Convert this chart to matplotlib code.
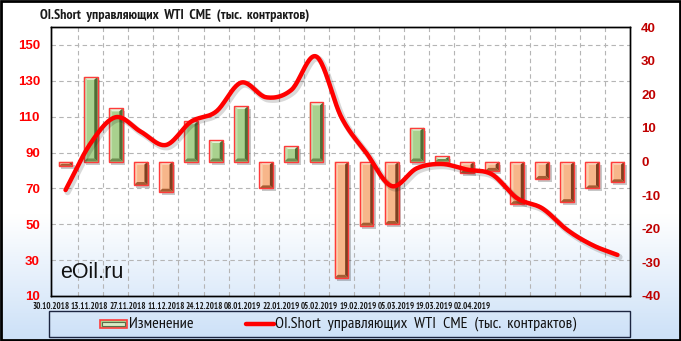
import numpy as np
import matplotlib
matplotlib.use("Agg")
import matplotlib.pyplot as plt
from matplotlib.patches import Polygon, Rectangle
from matplotlib.lines import Line2D


TITLE = "OI.Short  управляющих  WTI  CME  (тыс.  контрактов)"
BAR_LABEL = "Изменение"
LINE_LABEL = "OI.Short  управляющих  WTI  CME  (тыс.  контрактов)"

DATE_LABELS = [
    "30.10.2018", "13.11.2018", "27.11.2018", "11.12.2018", "24.12.2018", "08.01.2019",
    "22.01.2019", "05.02.2019", "19.02.2019", "05.03.2019", "19.03.2019", "02.04.2019",
]
# weekly values, 23 reports
OI_SHORT = [69.1, 95.2, 109.7, 101.6, 94.2, 107.2, 112.8, 129.0, 120.8, 124.9, 143.5, 109.5,
            89.6, 71.3, 81.2, 83.6, 80.5, 77.8, 64.5, 58.9, 46.8, 38.4, 32.9]
CHANGE = [-1.3, 25.2, 15.8, -7.0, -9.0, 12.0, 6.4, 16.5, -8.0, 4.6, 17.6, -34.6,
          -19.1, -18.6, 10.1, 1.5, -3.5, -2.8, -12.7, -5.2, -12.1, -8.0, -6.2]

LEFT_TICKS = [10, 30, 50, 70, 90, 110, 130, 150]
RIGHT_TICKS = [-40, -30, -20, -10, 0, 10, 20, 30, 40]

W, H = 681, 341
NARROW = ["PT Sans Narrow", "Roboto Condensed", "DejaVu Sans"]
SANS = ["Liberation Sans", "DejaVu Sans"]

GREEN = dict(body="#a9d18e", top="#e4f2d8", left="#c3dfae", right="#4f6d36", bottom="#6d8e50")
ORANGE = dict(body="#f7b68a", top="#fde4d0", left="#fbcfae", right="#7d4020", bottom="#a45d33")


def fx(px):
    return px / W


def fy(py):
    return 1 - py / H


def smooth(xs, ys, n=24):
    xs = np.asarray(xs, float)
    ys = np.asarray(ys, float)
    px = np.concatenate([[2 * xs[0] - xs[1]], xs, [2 * xs[-1] - xs[-2]]])
    py = np.concatenate([[2 * ys[0] - ys[1]], ys, [2 * ys[-1] - ys[-2]]])
    out_x, out_y = [], []
    t = np.linspace(0, 1, n, endpoint=False)
    for i in range(1, len(px) - 2):
        for arr, out in ((px, out_x), (py, out_y)):
            p0, p1, p2, p3 = arr[i - 1], arr[i], arr[i + 1], arr[i + 2]
            out.extend(0.5 * (2 * p1 + (-p0 + p2) * t + (2 * p0 - 5 * p1 + 4 * p2 - p3) * t ** 2
                              + (-p0 + 3 * p1 - 3 * p2 + p3) * t ** 3))
    out_x.append(xs[-1])
    out_y.append(ys[-1])
    return np.array(out_x), np.array(out_y)


def bevel_bar(ax, xc, value, width, colors):
    x0, x1 = xc - width / 2, xc + width / 2
    yb, yt = min(0, value), max(0, value)
    bx = 0.13
    by = min(0.9, (yt - yb) / 2)
    # shadow
    ax.add_patch(Rectangle((x0 + 0.1, yb - 0.9), width, yt - yb, facecolor="#000000",
                           alpha=0.22, edgecolor="none", zorder=2))
    ax.add_patch(Rectangle((x0, yb), width, yt - yb, facecolor=colors["body"],
                           edgecolor="none", zorder=3))
    faces = [
        ([(x0, yt), (x1, yt), (x1 - bx, yt - by), (x0 + bx, yt - by)], colors["top"]),
        ([(x0, yt), (x0, yb), (x0 + bx, yb + by), (x0 + bx, yt - by)], colors["left"]),
        ([(x1, yt), (x1, yb), (x1 - bx, yb + by), (x1 - bx, yt - by)], colors["right"]),
        ([(x0, yb), (x1, yb), (x1 - bx, yb + by), (x0 + bx, yb + by)], colors["bottom"]),
    ]
    for pts, c in faces:
        ax.add_patch(Polygon(pts, closed=True, facecolor=c, edgecolor="none", zorder=4))
    ax.add_patch(Rectangle((x0, yb), width, yt - yb, facecolor="none",
                           edgecolor="#ff3b3b", linewidth=1.0, zorder=5))


def main():
    fig = plt.figure(figsize=(W / 100, H / 100), dpi=100)
    fig.patch.set_facecolor("white")

    # background gradient
    bg = fig.add_axes([0, 0, 1, 1], zorder=0)
    grad = np.clip((np.linspace(0, H, 200) - 215) / (H - 215), 0, 1)[:, None]
    rgba = np.ones((200, 1, 4))
    top_c = np.array([1.0, 1.0, 1.0])
    bot_c = np.array([0.80, 0.88, 0.97])
    rgba[:, 0, :3] = top_c + (bot_c - top_c) * grad
    bg.imshow(rgba, aspect="auto", extent=[0, 1, 0, 1])
    bg.axis("off")
    bg.add_patch(Rectangle((0.0015, 0.003), 0.997, 0.994, transform=bg.transAxes,
                           facecolor="none", edgecolor="black", linewidth=2))

    rect = [fx(51), fy(296), fx(630) - fx(51), fy(27) - fy(296)]
    ax_r = fig.add_axes(rect, zorder=1)
    ax_r.patch.set_visible(False)
    ax_l = ax_r.twinx()
    ax_l.set_zorder(2)
    ax_l.patch.set_visible(False)

    n = len(CHANGE)
    xs = np.arange(n)
    ax_r.set_xlim(-0.5, n - 0.5)
    ax_r.set_ylim(-40, 40)
    ax_l.set_ylim(10, 160)

    # grid
    for v in LEFT_TICKS[1:]:
        ax_r.axhline(-40 + (v - 10) * 80 / 150, color="#b5b5b5", linestyle=(0, (4, 3)),
                     linewidth=0.8, zorder=1)
    for k in range(1, n):
        ax_r.axvline(k - 0.5, color="#b5b5b5", linestyle=(0, (4, 3)), linewidth=0.8, zorder=1)

    for x, v in zip(xs, CHANGE):
        bevel_bar(ax_r, x, v, 0.55, GREEN if v >= 0 else ORANGE)

    sx, sy = smooth(xs, OI_SHORT)
    ax_l.plot(sx + 0.08, sy - 1.2, color="#000000", alpha=0.15, linewidth=4.5,
              solid_capstyle="round")
    ax_l.plot(sx, sy, color="#ff0000", linewidth=3.2, solid_capstyle="round")

    # axes styling
    ax_r.yaxis.tick_right()
    ax_r.set_yticks(RIGHT_TICKS)
    ax_r.set_yticklabels([str(t) for t in RIGHT_TICKS])
    ax_r.tick_params(axis="y", length=0, pad=8, labelcolor="#c00000")
    ax_l.yaxis.tick_left()
    ax_l.set_yticks(LEFT_TICKS)
    ax_l.tick_params(axis="y", length=0, pad=8, labelcolor="#ff0000")
    for lab in ax_r.get_yticklabels() + ax_l.get_yticklabels():
        lab.set_family(SANS)
        lab.set_fontweight("bold")
        lab.set_fontsize(9.5)

    label_pos = np.linspace(-0.58, 16.23, len(DATE_LABELS))
    ax_r.set_xticks(label_pos)
    ax_r.set_xticklabels(DATE_LABELS, family=NARROW, fontweight="bold", fontsize=6.4,
                         color="#1a1a1a")
    ax_r.tick_params(axis="x", length=0, pad=4.5)
    ax_l.tick_params(axis="x", length=0)

    for ax in (ax_r, ax_l):
        for side in ("left", "right", "top", "bottom"):
            ax.spines[side].set_color("black")
            ax.spines[side].set_linewidth(1.0)

    # title and watermark
    fig.text(fx(40), fy(15), TITLE, family=NARROW, fontweight="bold", fontsize=10.1,
             color="#1a1a1a", ha="left", va="center")
    fig.text(fx(60), fy(272), "eOil.ru", family=SANS, fontsize=15.5, color="#111111",
             ha="left", va="center", zorder=5)

    # legend
    fig.add_artist(Rectangle((fx(49), fy(337)), fx(630) - fx(49), fy(311) - fy(337),
                             transform=fig.transFigure, facecolor="none",
                             edgecolor="#1c2540", linewidth=1.0))
    fig.add_artist(Rectangle((fx(100), fy(328)), fx(27), fy(320) - fy(328),
                             transform=fig.transFigure, facecolor="#a9d18e",
                             edgecolor="#ff3b3b", linewidth=1.2))
    fig.add_artist(Rectangle((fx(102), fy(326)), fx(23), fy(322) - fy(326),
                             transform=fig.transFigure, facecolor="#d7ecc4",
                             edgecolor="#5b6b4a", linewidth=0.8))
    fig.text(fx(129), fy(324), BAR_LABEL, family=NARROW, fontsize=11.7, color="#111111",
             ha="left", va="center")
    fig.add_artist(Line2D([fx(246), fx(274)], [fy(324), fy(324)], transform=fig.transFigure,
                          color="#ff0000", linewidth=3.2, solid_capstyle="round"))
    fig.text(fx(275), fy(324), LINE_LABEL, family=NARROW, fontsize=11.7, color="#111111",
             ha="left", va="center")

    fig.savefig("out.png", dpi=100)
    plt.close(fig)


if __name__ == "__main__":
    main()
